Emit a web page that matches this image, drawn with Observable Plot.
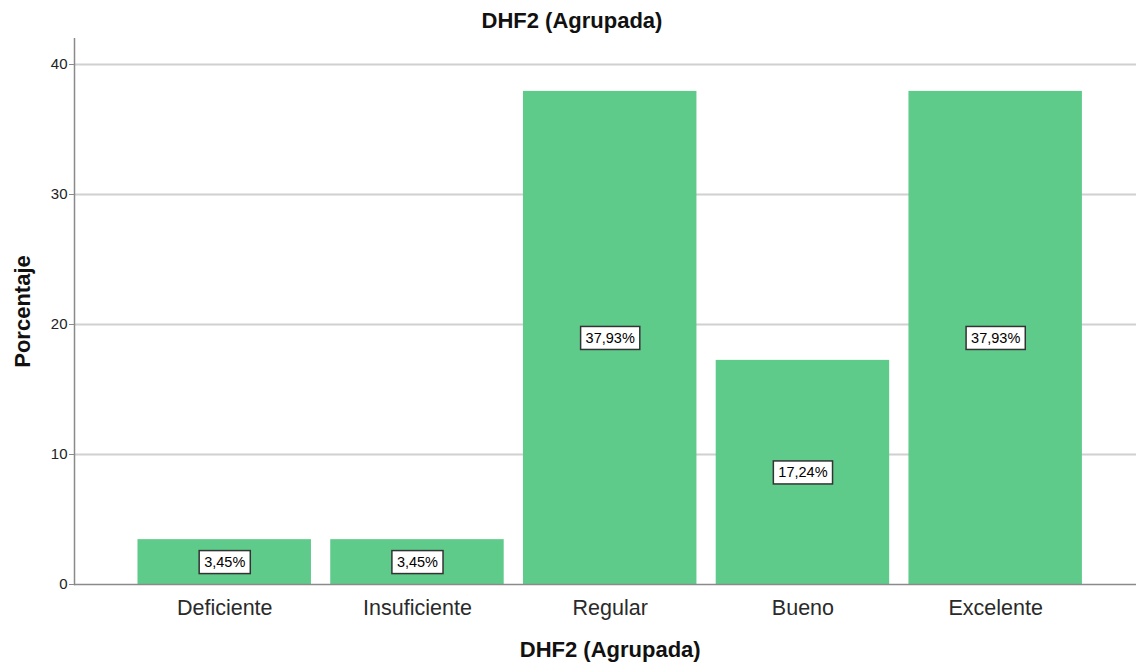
<!DOCTYPE html>
<html>
<head>
<meta charset="utf-8">
<script src="https://cdn.jsdelivr.net/npm/d3@7"></script>
<script src="https://cdn.jsdelivr.net/npm/@observablehq/plot@0.6"></script>
<style>
  body { margin: 0; background: #fff; font-family: "Liberation Sans", Arial, sans-serif; }
  #title { width: 1144px; height: 38px; box-sizing: border-box; padding-top: 8px; text-align: center;
           font: bold 22px "Liberation Sans", Arial, sans-serif; color: #111; line-height: normal; }
</style>
</head>
<body>
<div id="title">DHF2 (Agrupada)</div>
<div id="chart"></div>
<script>
const categories = ["Deficiente", "Insuficiente", "Regular", "Bueno", "Excelente"];
const values = [3.45, 3.45, 37.93, 17.24, 37.93];
const yTicks = [0, 10, 20, 30, 40];
const xTitle = "DHF2 (Agrupada)";
const yTitle = "Porcentaje";

const data = categories.map((c, i) => ({cat: c, v: values[i]}));
const fmt = v => v.toFixed(2).replace(".", ",") + "%";
const labelSize = 14.5;
const fontFam = '"Liberation Sans", Arial, sans-serif';

const measure = document.createElement("canvas").getContext("2d");
measure.font = `${labelSize}px "Liberation Sans"`;

const chart = Plot.plot({
  width: 1136,
  height: 624,
  marginTop: 0,
  marginLeft: 74,
  marginRight: 0,
  marginBottom: 78,
  style: {fontFamily: fontFam, background: "#fff", color: "#222"},
  x: {domain: categories, paddingInner: 0.1, paddingOuter: 0.305, align: 0.54, round: false},
  y: {domain: [0, 42]},
  marks: [
    Plot.gridY(yTicks.filter(t => t > 0), {stroke: "#d0d0d0", strokeOpacity: 1, strokeWidth: 2}),
    Plot.barY(data, {x: "cat", y: "v", fill: "#5ecb8b"}),
    Plot.ruleY([0], {stroke: "#8a8a8a", strokeWidth: 1.5}),
    Plot.frame({anchor: "left", stroke: "#8a8a8a", strokeWidth: 1.5}),
    Plot.axisY({ticks: yTicks, tickSize: 5, tickPadding: 2, fontSize: 15, label: null, stroke: "#8a8a8a"}),
    Plot.axisX({tickSize: 0, tickPadding: 15, fontSize: 21.5, label: null, fill: "#2a2a2a"}),
    Plot.text(data, {
      x: "cat", y: d => d.v / 2, text: d => fmt(d.v), fontSize: labelSize, fill: "#000",
      render(index, scales, vals, dims, ctx, next) {
        const g = next(index, scales, vals, dims, ctx);
        const first = g.firstChild;
        for (const i of index) {
          const w = measure.measureText(fmt(data[i].v)).width + 10;
          const h = 23;
          const r = document.createElementNS("http://www.w3.org/2000/svg", "rect");
          r.setAttribute("x", vals.x[i] - w / 2);
          r.setAttribute("y", vals.y[i] - h / 2);
          r.setAttribute("width", w);
          r.setAttribute("height", h);
          r.setAttribute("fill", "#fff");
          r.setAttribute("stroke", "#333");
          r.setAttribute("stroke-width", 1.5);
          g.insertBefore(r, first);
        }
        return g;
      }
    }),
    Plot.text([xTitle], {x: () => categories[2], frameAnchor: "bottom", lineAnchor: "top", dy: 57,
      fontSize: 22, fontWeight: "bold", fill: "#111"}),
    Plot.text([yTitle], {frameAnchor: "left", rotate: -90, textAnchor: "middle", dx: -52,
      fontSize: 22, fontWeight: "bold", fill: "#111"})
  ]
});
document.getElementById("chart").appendChild(chart);
</script>
</body>
</html>
